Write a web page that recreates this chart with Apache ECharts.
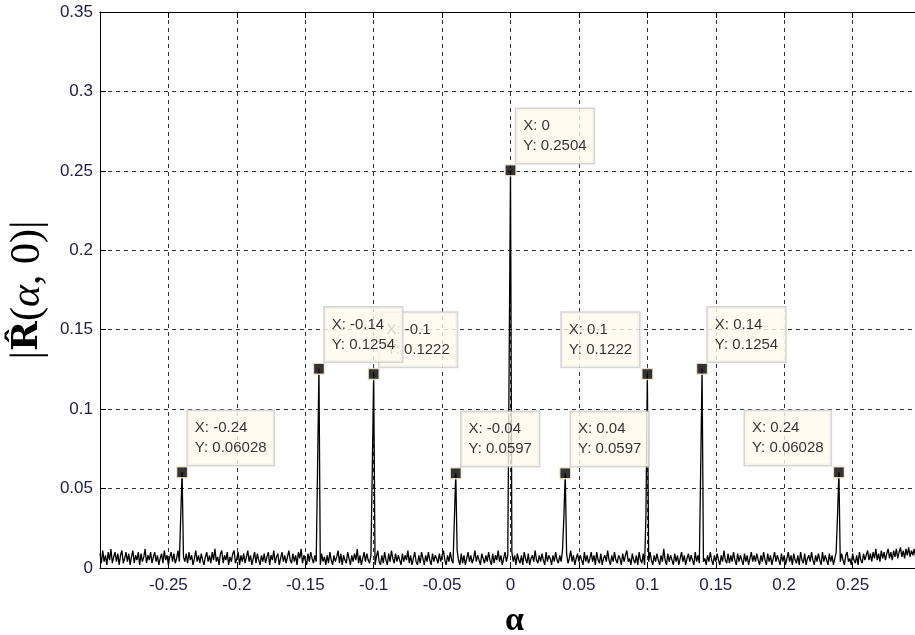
<!DOCTYPE html>
<html>
<head>
<meta charset="utf-8">
<script src="https://cdn.jsdelivr.net/npm/echarts@6/dist/echarts.min.js"></script>
<style>html,body{margin:0;padding:0;background:#fff;}#c{width:915px;height:635px;}</style>
</head>
<body>
<div id="c"></div>
<script>
// ---- data ----
const alphaStart = -0.3;
const alphaStep = 0.001;
const noiseFloor = [
.009,.003,.011,.004,.008,.002,.010,.005,.012,.003,.007,.010,.004,.009,.002,.008,.011,.003,.006,.010,
.004,.009,.002,.007,.011,.003,.008,.005,.010,.002,.009,.004,.007,.012,.003,.008,.005,.010,.003,.007,
.010,.004,.008,.002,.006,.009,.003,.011,.005,.008,.002,.007,.010,.004,.009,.003,.006,.011,.004,.008,
.002,.007,.004,.009,.003,.010,.005,.008,.002,.006,.011,.004,.008,.003,.009,.005,.002,.007,.010,.004,
.008,.003,.010,.005,.012,.004,.007,.002,.009,.011,.003,.008,.005,.010,.002,.007,.004,.009,.011,.003,
.006,.010,.002,.008,.004,.009,.003,.007,.011,.004,.008,.002,.006,.010,.003,.009,.005,.002,.008,.004,
.009,.003,.007,.010,.002,.008,.005,.011,.003,.007,.009,.002,.006,.010,.004,.008,.003,.007,.011,.005,
.003,.009,.004,.008,.002,.010,.006,.012,.003,.008,.005,.002,.009,.004,.010,.006,.003,.008,.004,.011,
.005,.002,.009,.004,.007,.002,.008,.003,.010,.005,.002,.008,.004,.007,.011,.003,.009,.002,.008,.005,
.003,.010,.006,.002,.008,.004,.009,.005,.012,.003,.008,.002,.006,.010,.004,.009,.005,.003,.008,.004,
.009,.002,.007,.011,.004,.002,.008,.003,.010,.005,.002,.009,.004,.011,.006,.003,.009,.004,.008,.005,
.002,.009,.004,.008,.005,.011,.003,.008,.002,.006,.010,.004,.002,.008,.003,.010,.006,.002,.008,.004,
.010,.005,.002,.009,.004,.008,.006,.003,.009,.004,.008,.011,.005,.002,.008,.004,.010,.005,.003,.008,
.004,.011,.005,.002,.009,.003,.008,.002,.006,.010,.004,.008,.003,.006,.011,.004,.008,.005,.002,.009,
.006,.003,.008,.004,.010,.005,.002,.009,.003,.008,.005,.011,.004,.008,.002,.006,.010,.004,.008,.003,
.005,.010,.004,.008,.002,.009,.005,.003,.008,.002,.010,.006,.003,.009,.002,.006,.008,.004,.011,.005,
.003,.008,.004,.009,.005,.002,.010,.004,.008,.006,.002,.008,.004,.010,.005,.003,.008,.004,.011,.005,
.004,.009,.003,.006,.011,.004,.008,.002,.006,.009,.004,.008,.005,.002,.010,.004,.008,.003,.006,.010,
.004,.008,.002,.010,.005,.003,.009,.002,.006,.008,.004,.011,.005,.002,.008,.004,.010,.005,.003,.008,
.006,.002,.009,.004,.008,.011,.004,.006,.002,.009,.005,.003,.008,.002,.010,.005,.003,.009,.002,.006,
.008,.004,.010,.005,.002,.008,.004,.009,.005,.002,.008,.004,.012,.005,.002,.009,.004,.008,.005,.002,
.009,.004,.008,.002,.006,.010,.004,.008,.002,.006,.009,.004,.008,.005,.002,.010,.004,.008,.003,.006,
.009,.004,.006,.002,.008,.004,.010,.005,.002,.008,.004,.009,.005,.002,.008,.004,.011,.005,.003,.009,
.003,.008,.004,.010,.005,.002,.009,.004,.008,.005,.002,.009,.004,.008,.002,.006,.010,.004,.008,.004,
.009,.005,.002,.008,.004,.010,.005,.002,.009,.004,.008,.002,.006,.010,.004,.008,.005,.002,.009,.004,
.008,.002,.006,.010,.004,.008,.002,.009,.005,.003,.008,.002,.010,.005,.003,.009,.002,.006,.008,.004,
.010,.005,.002,.008,.004,.009,.005,.002,.010,.004,.008,.005,.002,.009,.004,.008,.002,.006,.010,.004,
.008,.004,.009,.005,.002,.008,.010,.004,.006,.002,.009,.005,.003,.008,.002,.010,.005,.003,.009,.005,
.008,.011,.005,.009,.004,.010,.006,.012,.005,.009,.004,.011,.006,.010,.005,.009,.012,.006,.010,.005,
.011,.007,.012,.006,.010,.013,.007,.011,.006,.012,.008,.013,.007,.011,.008,.012,.007,.011,.013,.008,
.011
];
const peakAlpha    = [-0.24, -0.14, -0.1, -0.04, 0, 0.04, 0.1, 0.14, 0.24];
const peakValue    = [0.06028, 0.1254, 0.1222, 0.0597, 0.2504, 0.0597, 0.1222, 0.1254, 0.06028];
const shoulderValue= [0.033, 0.063, 0.063, 0.031, 0.128, 0.032, 0.034, 0.063, 0.033];
const xTicks = [-0.25, -0.2, -0.15, -0.1, -0.05, 0, 0.05, 0.1, 0.15, 0.2, 0.25];
const yTicks = [0, 0.05, 0.1, 0.15, 0.2, 0.25, 0.3, 0.35];

// ---- layout (not data) ----
const tipSide  = ['right','right','right','right','right','right','left','right','left'];
const tipOrder = [0, 2, 1, 3, 4, 5, 6, 7, 8]; // -0.14 tip drawn over -0.1 tip

// ---- build line from the arrays ----
const r6 = v => Math.round(v * 1e6) / 1e6;
const lineData = noiseFloor.map((v, i) => [r6(alphaStart + i * alphaStep), v]);
peakAlpha.forEach((a, k) => {
  const idx = Math.round((a - alphaStart) / alphaStep);
  lineData[idx][1] = peakValue[k];
  lineData[idx - 1][1] = shoulderValue[k];
});

const tipData = tipOrder.map(k => {
  const right = tipSide[k] === 'right';
  return {
    value: [peakAlpha[k], peakValue[k]],
    label: {
      position: right ? [12, -1] : [-2, -1],
      align: right ? 'left' : 'right',
      verticalAlign: 'bottom'
    }
  };
});

const labelColor = '#1c1c48';
const chart = echarts.init(document.getElementById('c'), null, {renderer: 'canvas'});
chart.setOption({
  animation: false,
  backgroundColor: '#ffffff',
  grid: {left: 100, right: -6, top: 12, bottom: 67, outerBoundsMode: 'none', containLabel: false},
  xAxis: [{
    type: 'value', min: -0.3, max: 0.3, interval: 0.05,
    axisLine: {show: true, onZero: false, lineStyle: {color: '#000', width: 1}},
    axisTick: {show: true, inside: true, length: 6, lineStyle: {color: '#000'}},
    axisLabel: {
      show: true, showMinLabel: false, showMaxLabel: false, margin: 9,
      color: labelColor, fontFamily: 'Liberation Sans, Arial, sans-serif', fontSize: 17,
      formatter: v => xTicks.some(t => Math.abs(t - v) < 1e-9) ? String(Math.round(v * 100) / 100) : ''
    },
    splitLine: {show: true, lineStyle: {color: '#333', type: [4, 4], width: 1}},
    name: 'α', nameLocation: 'middle', nameGap: 36,
    nameTextStyle: {fontFamily: 'Liberation Serif, serif', fontWeight: 'bold', fontSize: 34, color: '#000', padding: [0, 0, 0, 8]}
  }, {
    type: 'value', min: -0.3, max: 0.3, interval: 0.05, position: 'top',
    axisLine: {show: true, onZero: false, lineStyle: {color: '#000', width: 1}},
    axisTick: {show: true, inside: true, length: 6, lineStyle: {color: '#000'}},
    axisLabel: {show: false}, splitLine: {show: false}
  }],
  yAxis: {
    type: 'value', min: 0, max: 0.35, interval: 0.05,
    axisLine: {show: true, onZero: false, lineStyle: {color: '#000', width: 1}},
    axisTick: {show: true, inside: true, length: 6, lineStyle: {color: '#000'}},
    axisLabel: {
      margin: 7, color: labelColor, fontFamily: 'Liberation Sans, Arial, sans-serif', fontSize: 17,
      formatter: v => { const t = yTicks.find(t => Math.abs(t - v) < 1e-9); return t === undefined ? '' : String(t); }
    },
    splitLine: {show: true, lineStyle: {color: '#333', type: [4, 4], width: 1}},
    name: '{n||}{b|R\u0302}{n|(}{i|α}{n|, 0)|}',
    nameLocation: 'middle', nameGap: 46, nameRotate: 90,
    nameTextStyle: {
      color: '#000',
      rich: {
        n: {fontFamily: 'Liberation Serif, serif', fontSize: 42, color: '#000'},
        b: {fontFamily: 'DejaVu Serif, serif', fontWeight: 'bold', fontSize: 36, color: '#000'},
        i: {fontFamily: 'Liberation Serif, serif', fontStyle: 'italic', fontSize: 42, color: '#000'}
      }
    }
  },
  series: [{
    type: 'line', data: lineData, showSymbol: false, symbol: 'none',
    lineStyle: {color: '#000', width: 1.3}, z: 3, silent: true
  }, {
    type: 'scatter', data: tipData, symbol: 'rect', symbolSize: 11, z: 5,
    itemStyle: {color: '#000', borderColor: '#fff2d4', borderWidth: 1.5},
    label: {
      show: true,
      formatter: p => '{t|X: ' + p.value[0] + '}\n{t|Y: ' + p.value[1] + '}',
      backgroundColor: '#fffaee', borderColor: '#cccccc', borderWidth: 1.5,
      padding: [7, 7, 7, 7],
      rich: {
        t: {fontFamily: 'Liberation Sans, Arial, sans-serif', fontSize: 15, lineHeight: 20, color: '#000', align: 'left'}
      }
    }
  }]
});
</script>
</body>
</html>
